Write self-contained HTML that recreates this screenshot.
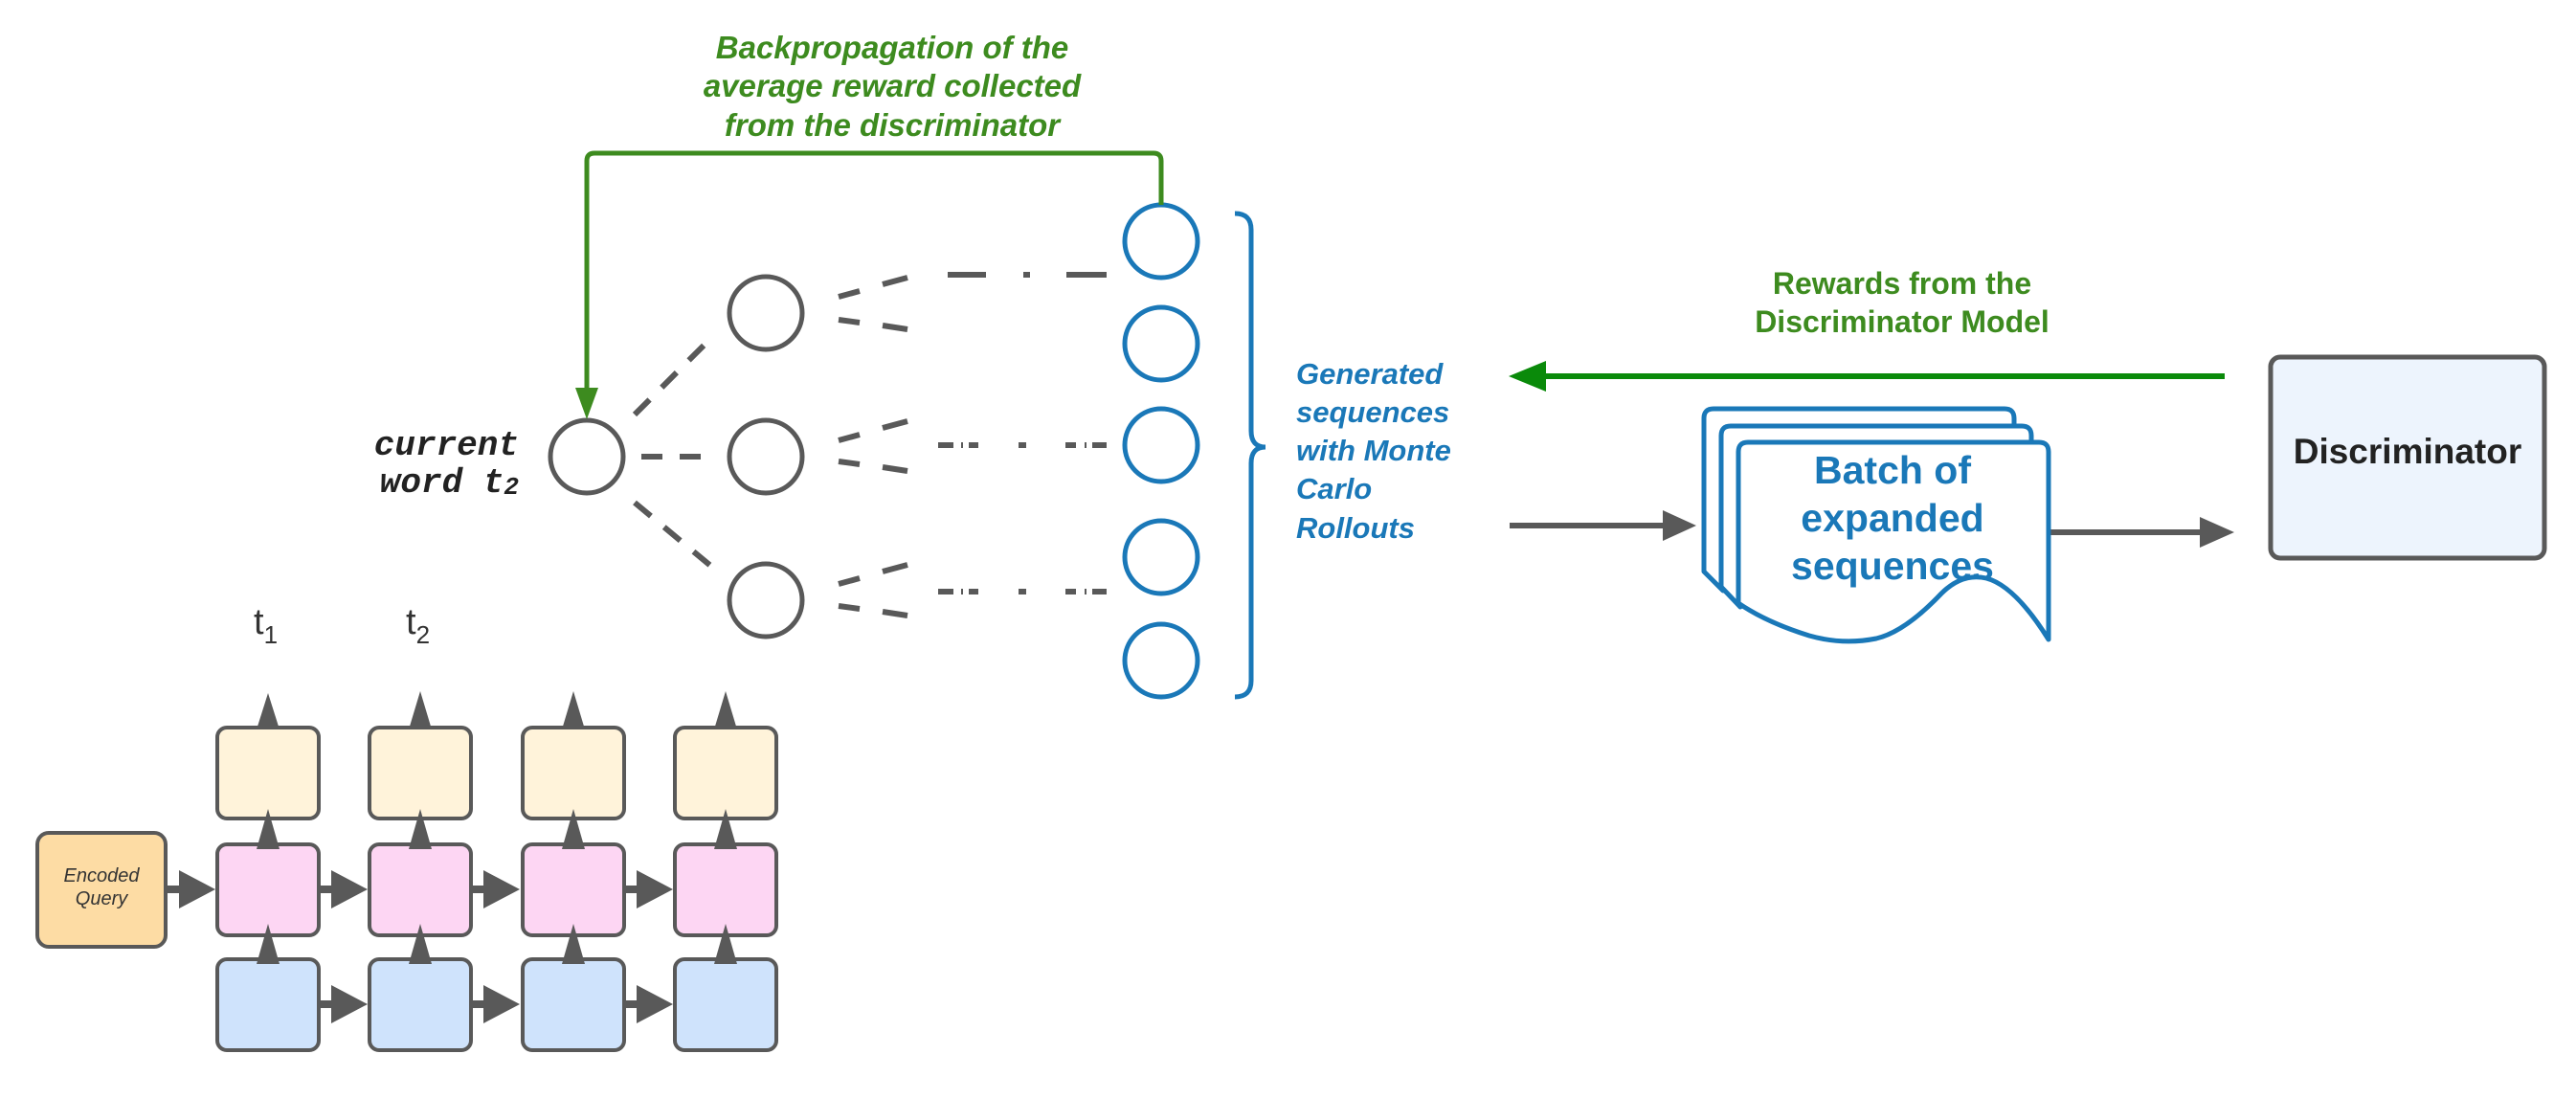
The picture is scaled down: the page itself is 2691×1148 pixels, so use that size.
<!DOCTYPE html>
<html><head><meta charset="utf-8"><style>html,body{margin:0;padding:0;background:#fff}svg{display:block}</style></head>
<body>
<svg width="2691" height="1148" viewBox="0 0 2691 1148" xmlns="http://www.w3.org/2000/svg" font-family="Liberation Sans, sans-serif">
<!-- LSTM grid -->
<g stroke="#595959" stroke-width="4">
<rect x="39" y="870" width="134" height="119" rx="12" fill="#fddca4"/>
<g fill="#fff3da">
<rect x="227" y="760" width="106" height="95" rx="10"/><rect x="386" y="760" width="106" height="95" rx="10"/><rect x="546" y="760" width="106" height="95" rx="10"/><rect x="705" y="760" width="106" height="95" rx="10"/></g>
<g fill="#fdd6f3">
<rect x="227" y="882" width="106" height="95" rx="10"/><rect x="386" y="882" width="106" height="95" rx="10"/><rect x="546" y="882" width="106" height="95" rx="10"/><rect x="705" y="882" width="106" height="95" rx="10"/></g>
<g fill="#cfe3fc">
<rect x="227" y="1002" width="106" height="95" rx="10"/><rect x="386" y="1002" width="106" height="95" rx="10"/><rect x="546" y="1002" width="106" height="95" rx="10"/><rect x="705" y="1002" width="106" height="95" rx="10"/></g>
</g>
<g fill="#595959">
<path d="M268,762 L280,724 L292,762z"/><path d="M427,762 L439,722 L451,762z"/><path d="M587,762 L599,722 L611,762z"/><path d="M746,762 L758,722 L770,762z"/>
<path d="M268,887 L280,845 L292,887z"/><path d="M427,887 L439,845 L451,887z"/><path d="M587,887 L599,845 L611,887z"/><path d="M746,887 L758,845 L770,887z"/>
<path d="M268,1007 L280,965 L292,1007z"/><path d="M427,1007 L439,965 L451,1007z"/><path d="M587,1007 L599,965 L611,1007z"/><path d="M746,1007 L758,965 L770,1007z"/>
<rect x="175" y="925" width="15" height="8"/><path d="M187,909 L225,929 L187,949z"/>
<rect x="335" y="925" width="13" height="8"/><path d="M346,909 L384,929 L346,949z"/>
<rect x="494" y="925" width="13" height="8"/><path d="M505,909 L543,929 L505,949z"/>
<rect x="654" y="925" width="13" height="8"/><path d="M665,909 L703,929 L665,949z"/>
<rect x="335" y="1045" width="13" height="8"/><path d="M346,1029 L384,1049 L346,1069z"/>
<rect x="494" y="1045" width="13" height="8"/><path d="M505,1029 L543,1049 L505,1069z"/>
<rect x="654" y="1045" width="13" height="8"/><path d="M665,1029 L703,1049 L665,1069z"/>
</g>
<text x="106" y="921" font-size="20" font-style="italic" fill="#333" text-anchor="middle">Encoded</text>
<text x="106" y="945" font-size="20" font-style="italic" fill="#333" text-anchor="middle">Query</text>
<text x="265" y="662" font-size="38" fill="#333">t<tspan font-size="26" dy="10">1</tspan></text>
<text x="424" y="662" font-size="38" fill="#333">t<tspan font-size="26" dy="10">2</tspan></text>

<!-- tree -->
<g fill="none" stroke="#595959" stroke-width="5">
<circle cx="613" cy="477" r="38"/>
<circle cx="800" cy="327" r="38"/><circle cx="800" cy="477" r="38"/><circle cx="800" cy="627" r="38"/>
<g stroke-width="6" stroke-dasharray="22,18">
<path d="M663,433 L740,356"/><path d="M670,477 L745,477"/><path d="M663,525 L746,594"/>
</g>
<g stroke-width="6">
<path d="M876,310 L898,304 M922,297 L948,290"/><path d="M876,334 L898,337 M922,340 L948,344"/>
<path d="M876,460 L898,454 M922,447 L948,440"/><path d="M876,482 L898,485 M922,488 L948,492"/>
<path d="M876,610 L898,604 M922,597 L948,590"/><path d="M876,633 L898,636 M922,639 L948,643"/>
<path d="M990,287 L1030,287 M1069,287 L1076,287 M1114,287 L1156,287"/>
<path d="M980,465 L996,465 M1004,465 L1006,465 M1012,465 L1022,465 M1064,465 L1072,465 M1113,465 L1124,465 M1133,465 L1135,465 M1141,465 L1156,465"/>
<path d="M980,618 L996,618 M1004,618 L1006,618 M1012,618 L1022,618 M1064,618 L1072,618 M1113,618 L1124,618 M1133,618 L1135,618 M1141,618 L1156,618"/>
</g>
</g>
<g fill="none" stroke="#1a78b8" stroke-width="5">
<circle cx="1213" cy="252" r="38"/><circle cx="1213" cy="359" r="38"/><circle cx="1213" cy="465" r="38"/><circle cx="1213" cy="582" r="38"/><circle cx="1213" cy="690" r="38"/>
<path d="M1290,223 Q1307,223 1307,240 L1307,450 Q1307,467 1322,467 Q1307,467 1307,484 L1307,711 Q1307,728 1290,728"/>
</g>
<!-- green feedback -->
<path d="M1213,214 L1213,168 Q1213,160 1205,160 L621,160 Q613,160 613,168 L613,410" fill="none" stroke="#3d8b1f" stroke-width="5"/>
<path d="M601,405 L613,438 L625,405z" fill="#3d8b1f"/>
<g font-weight="bold" font-style="italic" font-size="33" fill="#3d8b1f" text-anchor="middle">
<text x="932" y="61">Backpropagation of the</text>
<text x="932" y="101">average reward collected</text>
<text x="932" y="142">from the discriminator</text>
</g>
<g font-family="Liberation Mono, monospace" font-weight="bold" font-style="italic" font-size="36" fill="#222" text-anchor="end">
<text x="542" y="475">current</text>
<text x="542" y="514">word t<tspan font-size="26" dy="2">2</tspan></text>
</g>
<g font-weight="bold" font-style="italic" font-size="31" fill="#1a78b8">
<text x="1354" y="401">Generated</text><text x="1354" y="441">sequences</text><text x="1354" y="481">with Monte</text><text x="1354" y="521">Carlo</text><text x="1354" y="562">Rollouts</text>
</g>
<!-- arrows -->
<line x1="1577" y1="549" x2="1745" y2="549" stroke="#595959" stroke-width="6"/>
<path d="M1737,533 L1772,549 L1737,565z" fill="#595959"/>
<line x1="2140" y1="556" x2="2305" y2="556" stroke="#595959" stroke-width="6"/>
<path d="M2298,540 L2334,556 L2298,572z" fill="#595959"/>
<line x1="2324" y1="393" x2="1610" y2="393" stroke="#0a8a0a" stroke-width="6"/>
<path d="M1615,377 L1576,393 L1615,409z" fill="#0a8a0a"/>
<g font-weight="bold" font-size="32" fill="#3d8b1f" text-anchor="middle">
<text x="1987" y="307">Rewards from the</text><text x="1987" y="347">Discriminator Model</text>
</g>
<!-- docs -->
<g fill="#fff" stroke="#1a78b8" stroke-width="5" stroke-linejoin="round">
<path d="M1780,597 L1780,437 Q1780,427 1790,427 L2094,427 Q2104,427 2104,437 L2104,500 L1800,500 L1800,617 L1780,597z"/>
<path d="M1798,613 L1798,455 Q1798,445 1808,445 L2112,445 Q2122,445 2122,455 L2122,520 L1818,520 L1818,634 L1798,613z"/>
<path d="M1816,630 L1816,472 Q1816,462 1826,462 L2130,462 Q2140,462 2140,472 L2140,668 Q2105,612 2075,604 Q2050,598 2028,620 Q1990,660 1960,667 Q1925,674 1890,664 Q1845,650 1816,630z"/>
</g>
<g font-weight="bold" font-size="41" fill="#1a78b8" text-anchor="middle">
<text x="1977" y="505">Batch of</text><text x="1977" y="555">expanded</text><text x="1977" y="605">sequences</text>
</g>
<rect x="2372" y="373" width="286" height="210" rx="10" fill="#edf4fd" stroke="#595959" stroke-width="5"/>
<text x="2515" y="484" font-weight="bold" font-size="37" fill="#222" text-anchor="middle">Discriminator</text>
</svg>
</body></html>
